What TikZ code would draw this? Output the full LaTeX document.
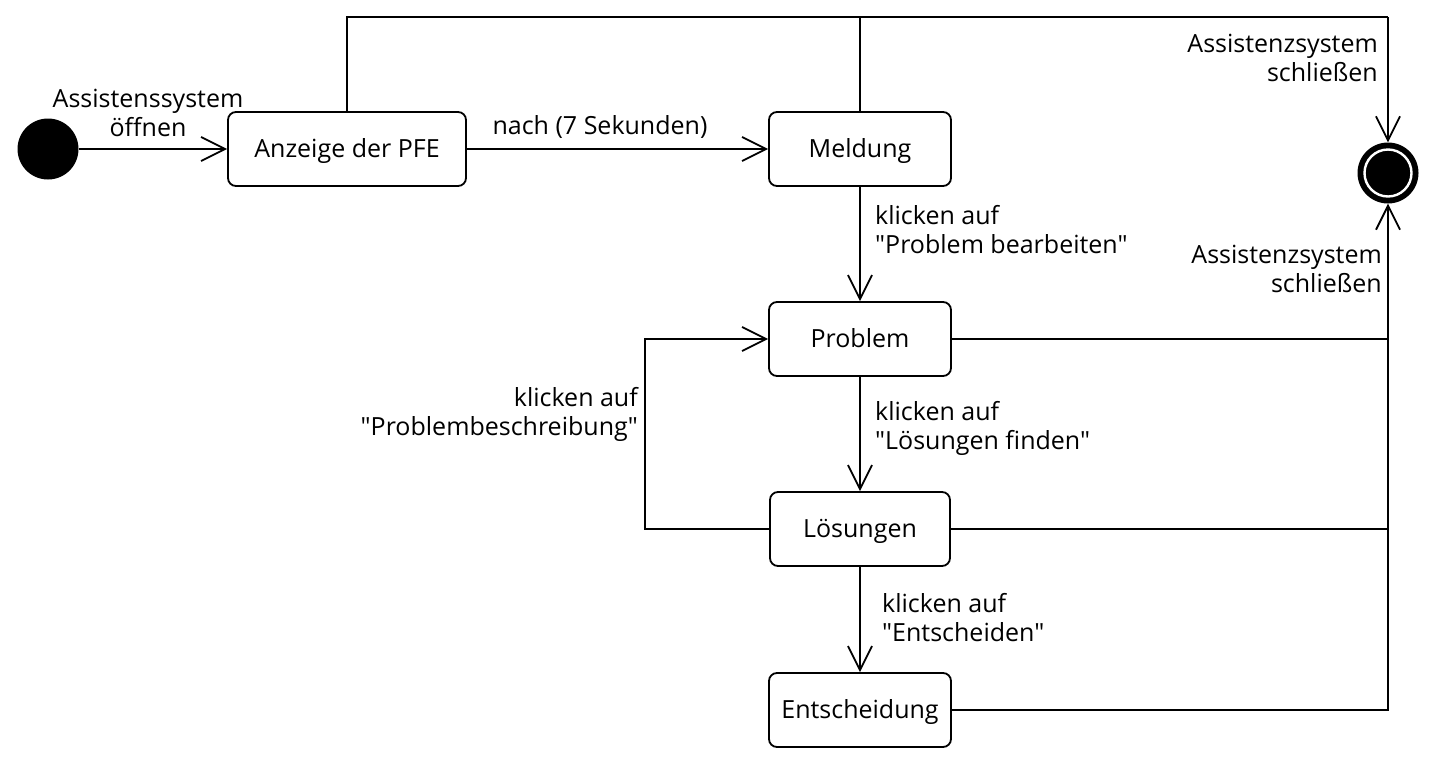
\documentclass[tikz,border=0pt]{standalone}
\usepackage{fontspec}
\setmainfont{Open Sans}[Ligatures=TeXOff]
\usetikzlibrary{arrows.meta}
\begin{document}
\begin{tikzpicture}[x=1pt,y=-1pt,
  every node/.style={font=\fontsize{25}{29}\selectfont},
  state/.style={draw,line width=1.8pt,rounded corners=8pt,minimum height=74pt,inner sep=0pt,fill=white,text height=18pt,text depth=2pt},
  lbl/.style={inner sep=0pt,align=center},
  conn/.style={line width=1.8pt},
  arr/.style={conn,-{Straight Barb[length=24pt,width=24pt,line width=1.8pt]}},
  ]
\useasboundingbox (0,0) rectangle (1436,764);
% nodes
\node[circle,fill=black,minimum size=61pt,inner sep=0pt] (init) at (48,149) {};
\node[state,minimum width=238pt] (anz) at (347,149) {Anzeige der PFE};
\node[state,minimum width=182pt] (mel) at (860,149) {Meldung};
\node[state,minimum width=182pt] (prob) at (860,339) {Problem};
\node[state,minimum width=180pt] (loes) at (860,529) {Lösungen};
\node[state,minimum width=182pt] (ent) at (860,710) {Entscheidung};
\node[circle,fill=black,minimum size=61pt,inner sep=0pt] (final) at (1388,173) {};
\node[circle,fill=black,draw=white,line width=2.4pt,minimum size=47pt,inner sep=0pt] (finalin) at (final) {};
% coordinates
\coordinate (tl) at (347,17);
\coordinate (tm) at (860,17);
\coordinate (tr) at (1388,17);
\coordinate (rp) at (1388,339);
\coordinate (rl) at (1388,529);
\coordinate (re) at (1388,710);
\coordinate (ll) at (645,529);
\coordinate (lp) at (645,339);
% connectors
\draw[arr] (init) -- (anz);
\draw[arr] (anz) -- (mel);
\draw[arr] (mel) -- (prob);
\draw[arr] (prob) -- (loes);
\draw[arr] (loes) -- (ent);
\draw[conn] (anz.north) -- (tl) -- (tr);
\draw[conn] (mel.north) -- (tm);
\draw[arr] (tr) -- (final.north);
\draw[arr] (ent.east) -- (re) -- (final.south);
\draw[conn] (prob.east) -- (rp);
\draw[conn] (loes.east) -- (rl);
\draw[arr] (loes.west) -- (ll) -- (lp) -- (prob.west);
% labels
\node[lbl] (l1) at (148,112.5) {Assistenssystem\\öffnen};
\node[lbl] (l2) at (600,127) {nach (7 Sekunden)};
\node[lbl,align=right,anchor=east] (l3) at (1378,58) {Assistenzsystem\\schließen};
\node[lbl,align=right,anchor=east] (l4) at (1382,269) {Assistenzsystem\\schließen};
\node[lbl,align=left,anchor=west] (l5) at (875,229.5) {klicken auf\\"Problem bearbeiten"};
\node[lbl,align=left,anchor=west] (l6) at (875,428.5) {klicken auf\\"Lösungen finden"};
\node[lbl,align=left,anchor=west] (l7) at (882,617.5) {klicken auf\\"Entscheiden"};
\node[lbl,align=right,anchor=east] (l8) at (638,414.5) {klicken auf\\"Problembeschreibung"};
\end{tikzpicture}
\end{document}
